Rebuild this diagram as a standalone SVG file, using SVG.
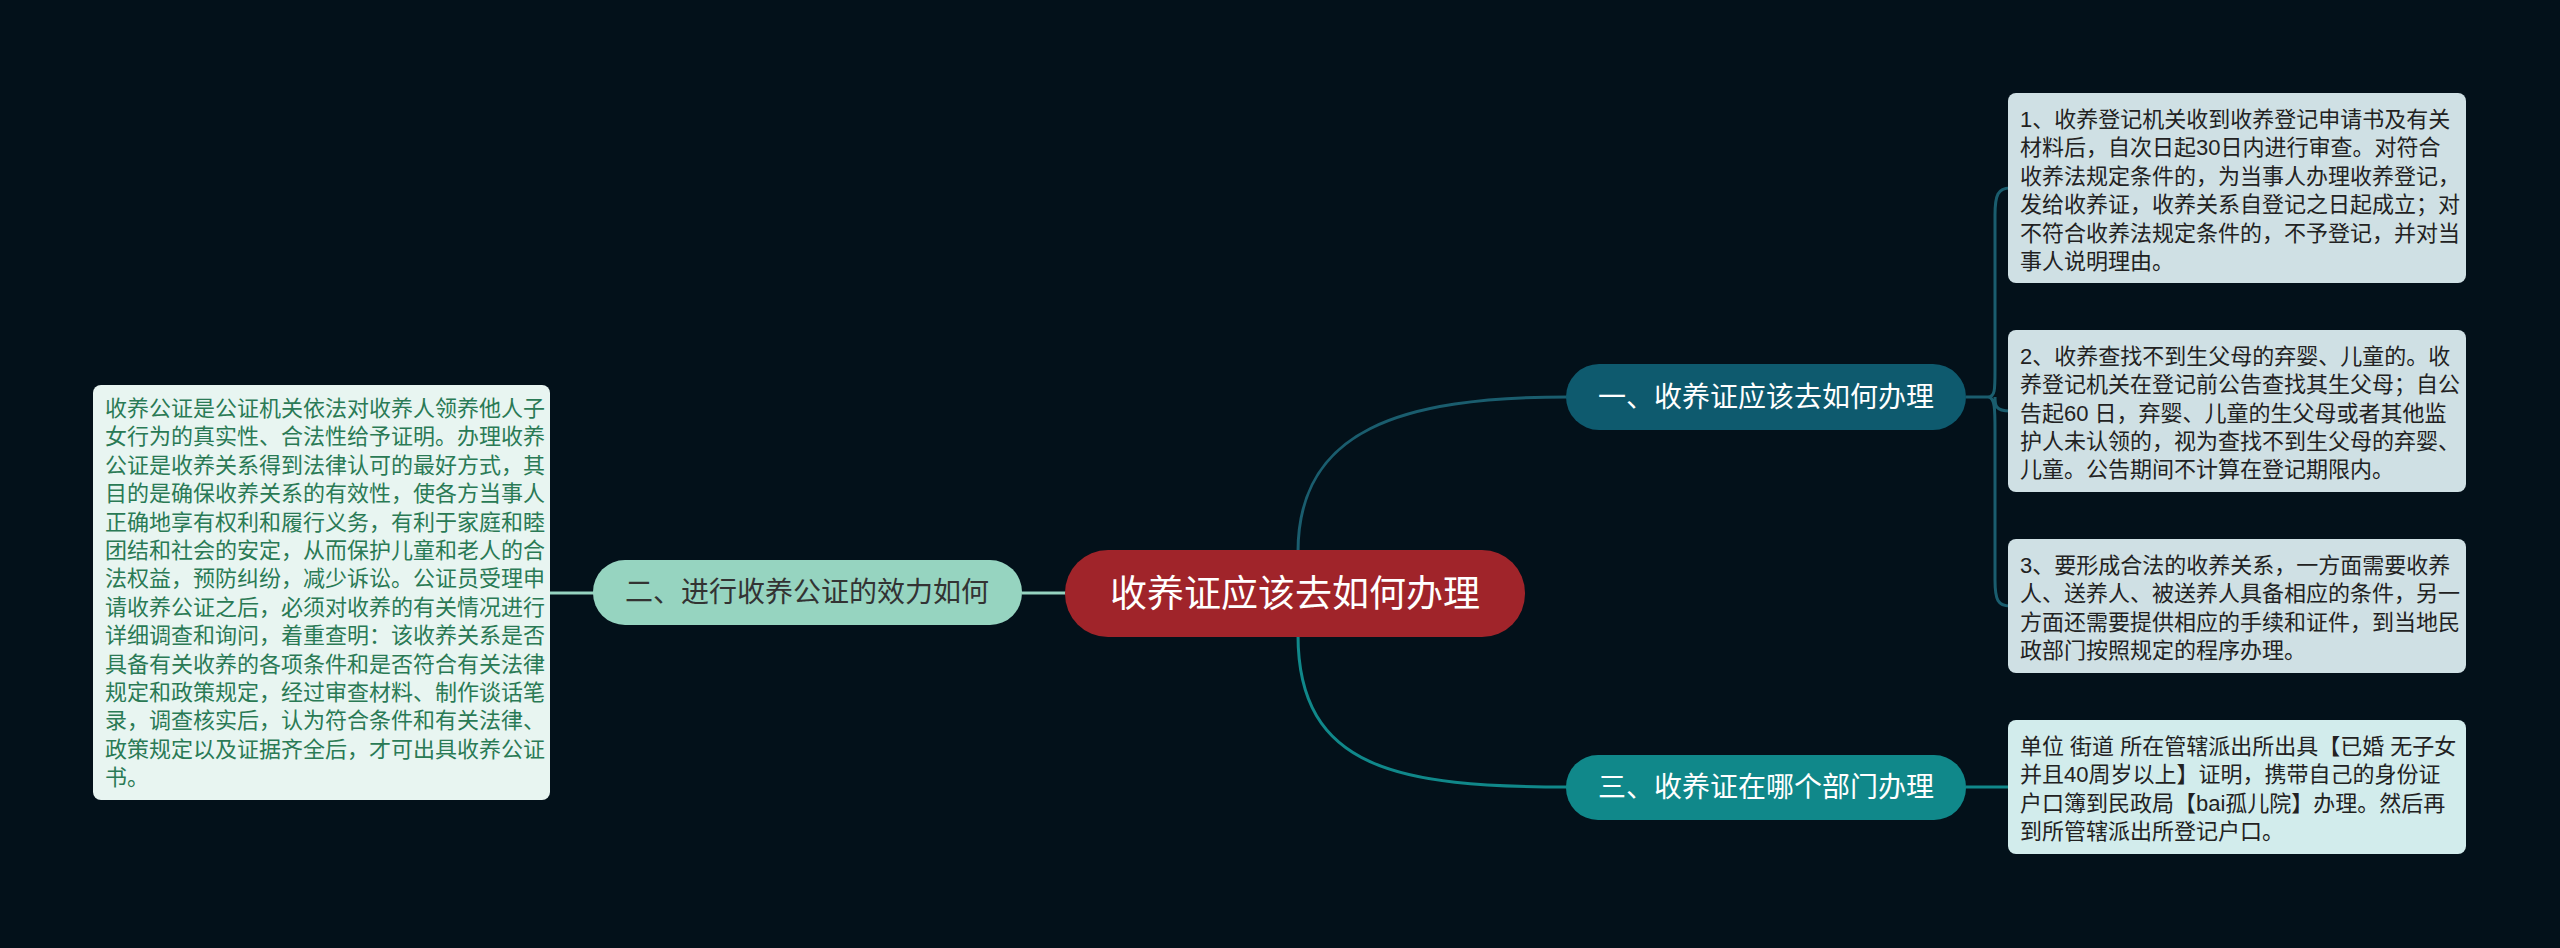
<svg xmlns="http://www.w3.org/2000/svg" width="2560" height="948" viewBox="0 0 2560 948">
<style>
text{font-family:"Liberation Sans","Noto Sans CJK SC",sans-serif}
.t{font-size:22px;fill:#222}
.g{font-size:22px;fill:#2a7a55}
.b{font-size:28px}
.c{fill:none;stroke-width:3}
</style>
<rect width="2560" height="948" fill="#03111a"/>
<g id="connectors">
<path class="c" stroke="#1a5d6e" d="M1298 552 C1298 430 1400 397 1568 397"/>
<path class="c" stroke="#10888a" d="M1298 635 C1298 770 1400 787 1568 787"/>
<path class="c" stroke="#96d4c0" d="M1022 593 H1067"/>
<path class="c" stroke="#96d4c0" d="M550 593 H595"/>
<path class="c" stroke="#1a5d6e" d="M1966 397 H1988 M1988 397 C1995 397 1995 390 1995 370 V215 C1995 195 1998 188 2010 188 M1995 397 C1995 405 1995 411 2010 411 M1988 397 C1995 397 1995 410 1995 430 V580 C1995 600 1998 606 2010 606"/>
<path class="c" stroke="#10888a" d="M1966 787 H2010"/>
</g>
<g id="center">
<rect x="1065" y="550" width="460" height="87" rx="43" fill="#a0242a"/>
<text x="1295" y="607" font-size="37" fill="#fff" text-anchor="middle">收养证应该去如何办理</text>
</g>
<g id="b2">
<rect x="593" y="560" width="429" height="65" rx="32" fill="#96d4c0"/>
<text x="807" y="602" class="b" fill="#333" text-anchor="middle">二、进行收养公证的效力如何</text>
</g>
<g id="b1">
<rect x="1566" y="364" width="400" height="66" rx="33" fill="#0e5a6e"/>
<text x="1766" y="407" class="b" fill="#fff" text-anchor="middle">一、收养证应该去如何办理</text>
</g>
<g id="b3">
<rect x="1566" y="755" width="400" height="65" rx="32" fill="#10888a"/>
<text x="1766" y="797" class="b" fill="#fff" text-anchor="middle">三、收养证在哪个部门办理</text>
</g>
<g id="leftbox">
<rect x="93" y="385" width="457" height="415" rx="8" fill="#e8f5f1"/>
<text class="g">
<tspan x="105" y="416">收养公证是公证机关依法对收养人领养他人子</tspan>
<tspan x="105" y="444">女行为的真实性、合法性给予证明。办理收养</tspan>
<tspan x="105" y="473">公证是收养关系得到法律认可的最好方式，其</tspan>
<tspan x="105" y="501">目的是确保收养关系的有效性，使各方当事人</tspan>
<tspan x="105" y="530">正确地享有权利和履行义务，有利于家庭和睦</tspan>
<tspan x="105" y="558">团结和社会的安定，从而保护儿童和老人的合</tspan>
<tspan x="105" y="586">法权益，预防纠纷，减少诉讼。公证员受理申</tspan>
<tspan x="105" y="615">请收养公证之后，必须对收养的有关情况进行</tspan>
<tspan x="105" y="643">详细调查和询问，着重查明：该收养关系是否</tspan>
<tspan x="105" y="672">具备有关收养的各项条件和是否符合有关法律</tspan>
<tspan x="105" y="700">规定和政策规定，经过审查材料、制作谈话笔</tspan>
<tspan x="105" y="728">录，调查核实后，认为符合条件和有关法律、</tspan>
<tspan x="105" y="757">政策规定以及证据齐全后，才可出具收养公证</tspan>
<tspan x="105" y="785">书。</tspan>
</text>
</g>
<g id="r1">
<rect x="2008" y="93" width="458" height="190" rx="8" fill="#cfe0e4"/>
<text class="t">
<tspan x="2020" y="127">1、收养登记机关收到收养登记申请书及有关</tspan>
<tspan x="2020" y="155">材料后，自次日起30日内进行审查。对符合</tspan>
<tspan x="2020" y="184">收养法规定条件的，为当事人办理收养登记，</tspan>
<tspan x="2020" y="212">发给收养证，收养关系自登记之日起成立；对</tspan>
<tspan x="2020" y="241">不符合收养法规定条件的，不予登记，并对当</tspan>
<tspan x="2020" y="269">事人说明理由。</tspan>
</text>
</g>
<g id="r2">
<rect x="2008" y="330" width="458" height="162" rx="8" fill="#cfe0e4"/>
<text class="t">
<tspan x="2020" y="364">2、收养查找不到生父母的弃婴、儿童的。收</tspan>
<tspan x="2020" y="392">养登记机关在登记前公告查找其生父母；自公</tspan>
<tspan x="2020" y="421">告起60 日，弃婴、儿童的生父母或者其他监</tspan>
<tspan x="2020" y="449">护人未认领的，视为查找不到生父母的弃婴、</tspan>
<tspan x="2020" y="477">儿童。公告期间不计算在登记期限内。</tspan>
</text>
</g>
<g id="r3">
<rect x="2008" y="539" width="458" height="134" rx="8" fill="#cfe0e4"/>
<text class="t">
<tspan x="2020" y="573">3、要形成合法的收养关系，一方面需要收养</tspan>
<tspan x="2020" y="601">人、送养人、被送养人具备相应的条件，另一</tspan>
<tspan x="2020" y="630">方面还需要提供相应的手续和证件，到当地民</tspan>
<tspan x="2020" y="658">政部门按照规定的程序办理。</tspan>
</text>
</g>
<g id="r4">
<rect x="2008" y="720" width="458" height="134" rx="8" fill="#d2ecec"/>
<text class="t">
<tspan x="2020" y="754">单位 街道 所在管辖派出所出具【已婚 无子女</tspan>
<tspan x="2020" y="782"> 并且40周岁以上】证明，携带自己的身份证</tspan>
<tspan x="2020" y="811">户口簿到民政局【bai孤儿院】办理。然后再</tspan>
<tspan x="2020" y="839">到所管辖派出所登记户口。</tspan>
</text>
</g>
</svg>
